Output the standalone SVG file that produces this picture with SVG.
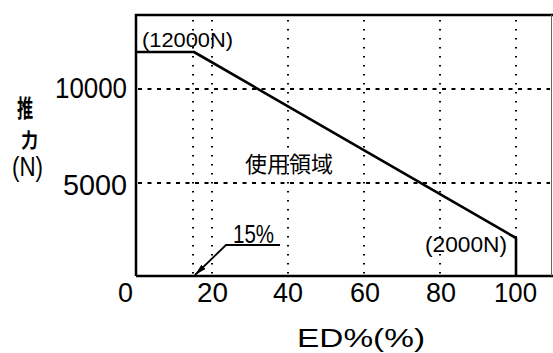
<svg xmlns="http://www.w3.org/2000/svg" width="553" height="353" viewBox="0 0 553 353">
<style>
.t{font-family:"Liberation Sans","Noto Sans CJK JP",sans-serif;fill:#000}
.cjk{font-family:"Noto Sans CJK JP",sans-serif;fill:#000}
.vg{stroke:#000;stroke-width:2;stroke-dasharray:1.6 7.4;fill:none}
.hg{stroke:#000;stroke-width:1.8;stroke-dasharray:4 5.5;fill:none}
.frame{stroke:#000;stroke-width:2.5;fill:none}
.curve{stroke:#000;stroke-width:2.6;fill:none;stroke-linejoin:round}
</style>
<defs>
<marker id="arr" viewBox="0 0 12 6" refX="12" refY="3" markerWidth="12" markerHeight="6" markerUnits="userSpaceOnUse" orient="auto">
<path d="M0,0 L12,3 L0,6 Z" fill="#000"/>
</marker>
</defs>
<g id="grid">
<path class="vg" d="M193,20 V276 M212,20 V276 M288,20 V276 M364,20 V276 M440,20 V276 M516,20 V238"/>
<path class="hg" d="M138,89 H550 M138,183 H550"/>
</g>
<g id="axes">
<path class="frame" d="M136,276 V15 H553"/>
<path class="frame" d="M136,276 H553"/>
<path d="M551.5,15 V276" stroke="#666" stroke-width="1" fill="none"/>
</g>
<g id="connectors">
<path class="curve" d="M136,52 H194 L516,238 V276"/>
<path d="M280,245 H226 L195,275" stroke="#000" stroke-width="1.8" fill="none" marker-end="url(#arr)"/>
</g>
<g id="labels">
<text class="t" x="127" y="98" font-size="29" text-anchor="end" textLength="72" lengthAdjust="spacingAndGlyphs">10000</text>
<text class="t" x="127" y="195" font-size="29" text-anchor="end" textLength="64" lengthAdjust="spacingAndGlyphs">5000</text>
<text class="t" x="118" y="302" font-size="28" textLength="15" lengthAdjust="spacingAndGlyphs">0</text>
<text class="t" x="197" y="302" font-size="28" textLength="31" lengthAdjust="spacingAndGlyphs">20</text>
<text class="t" x="273" y="302" font-size="28" textLength="30" lengthAdjust="spacingAndGlyphs">40</text>
<text class="t" x="350" y="302" font-size="28" textLength="30" lengthAdjust="spacingAndGlyphs">60</text>
<text class="t" x="426" y="302" font-size="28" textLength="30" lengthAdjust="spacingAndGlyphs">80</text>
<text class="t" x="494" y="302" font-size="28" textLength="43" lengthAdjust="spacingAndGlyphs">100</text>
<text class="t" x="142" y="47" font-size="21" textLength="91" lengthAdjust="spacingAndGlyphs">(12000N)</text>
<text class="t" x="425" y="252" font-size="22" textLength="82" lengthAdjust="spacingAndGlyphs">(2000N)</text>
<text class="t" x="233" y="243" font-size="25" textLength="41" lengthAdjust="spacingAndGlyphs">15%</text>
<text class="cjk" x="245" y="172" font-size="22">使用領域</text>
<text class="cjk" font-size="18" font-weight="bold" transform="translate(17,117) scale(0.9,1.35)">推</text>
<text class="cjk" font-size="18" font-weight="bold" transform="translate(21,148) scale(0.95,1.15)">力</text>
<text class="t" x="12" y="176" font-size="27" textLength="31" lengthAdjust="spacingAndGlyphs">(N)</text>
<text class="t" x="297" y="347" font-size="26" textLength="128" lengthAdjust="spacingAndGlyphs">ED%(%)</text>
</g>
</svg>
